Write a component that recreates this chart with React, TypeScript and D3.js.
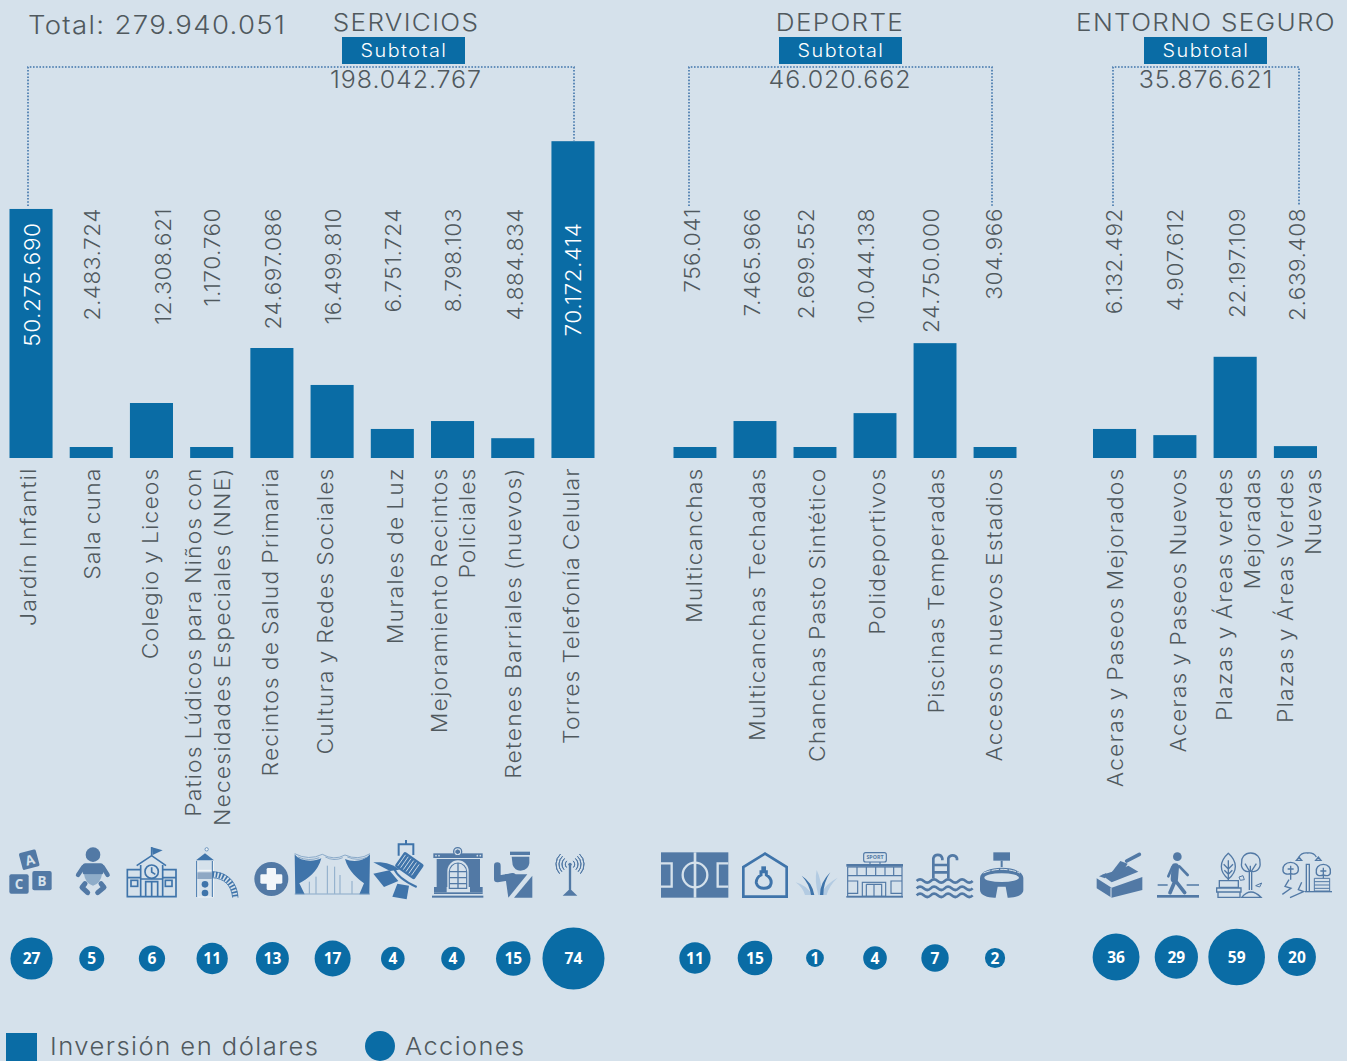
import * as d3 from 'd3';

// Inversion per category (dollars), as printed on the picture
const serviciosCategorias = [
  ['Jardín Infantil'],
  ['Sala cuna'],
  ['Colegio y Liceos'],
  ['Patios Lúdicos para Niños con', 'Necesidades Especiales (NNE)'],
  ['Recintos de Salud Primaria'],
  ['Cultura y Redes Sociales'],
  ['Murales de Luz'],
  ['Mejoramiento Recintos', 'Policiales'],
  ['Retenes Barriales (nuevos)'],
  ['Torres Telefonía Celular'],
];
const serviciosInversion = [50275690, 2483724, 12308621, 1170760, 24697086, 16499810, 6751724, 8798103, 4884834, 70172414];
// the bars in the original are not proportional to the printed number, so keep what was drawn (millions)
const serviciosBarras = [56.6, 2.5, 12.5, 2.5, 25, 16.6, 6.6, 8.4, 4.5, 72];
const serviciosAcciones = [27, 5, 6, 11, 13, 17, 4, 4, 15, 74];

const deporteCategorias = [
  ['Multicanchas'],
  ['Multicanchas Techadas'],
  ['Chanchas Pasto Sintético'],
  ['Polideportivos'],
  ['Piscinas Temperadas'],
  ['Accesos nuevos Estadios'],
];
const deporteInversion = [756041, 7465966, 2699552, 10044138, 24750000, 304966];
const deporteBarras = [2.5, 8.4, 2.5, 10.2, 26.1, 2.5];
const deporteAcciones = [11, 15, 1, 4, 7, 2];

const entornoCategorias = [
  ['Aceras y Paseos Mejorados'],
  ['Aceras y Paseos Nuevos'],
  ['Plazas y Áreas verdes', 'Mejoradas'],
  ['Plazas y Áreas Verdes', 'Nuevas'],
];
const entornoInversion = [6132492, 4907612, 22197109, 2639408];
const entornoBarras = [6.6, 5.2, 23, 2.7];
const entornoAcciones = [36, 29, 59, 20];

const totalGeneral = 279940051;
const subtotales = [198042767, 46020662, 35876621];

const WIDTH = 1347;
const HEIGHT = 1061;
const BG = '#d5e1eb';
const BLUE = '#0a6ca5';
const ICON = '#5279a5';
const ICON_LINE = '#3f74aa';
const TEXT = '#50595e';
const FONT = 'Inter, "Open Sans", sans-serif';

const es = d3.formatLocale({ decimal: ',', thousands: '.', grouping: [3], currency: ['', ''] });
const fmt = es.format(',d');

const yBar = d3.scaleLinear().domain([0, 72]).range([458, 141.2]);
const rAccion = d3.scaleSqrt().domain([0, 74]).range([6, 31]);

const grupos = [
  {
    titulo: 'SERVICIOS',
    categorias: serviciosCategorias,
    inversion: serviciosInversion,
    barras: serviciosBarras,
    acciones: serviciosAcciones,
    subtotal: subtotales[0],
    xRange: [9.5, 594.5],
    center: 406,
    boxCenter: 403.5,
    circleY: 958.5,
    circleNudge: 0.5,
    bracket: [28, 574, 206, 141],
    valueX: [32, 92, 163, 212, 273, 333, 393, 453, 515, 573],
    catX: [[28], [92], [150], [193, 222], [270], [325], [395], [439, 467], [513], [571]],
  },
  {
    titulo: 'DEPORTE',
    categorias: deporteCategorias,
    inversion: deporteInversion,
    barras: deporteBarras,
    acciones: deporteAcciones,
    subtotal: subtotales[1],
    xRange: [673.5, 1016.5],
    center: 840,
    boxCenter: 840.5,
    circleY: 958,
    circleNudge: 0,
    bracket: [689, 992, 206, 206],
    valueX: [692, 752, 806, 866, 931, 994],
    catX: [[694], [757], [817], [877], [936], [994]],
  },
  {
    titulo: 'ENTORNO SEGURO',
    categorias: entornoCategorias,
    inversion: entornoInversion,
    barras: entornoBarras,
    acciones: entornoAcciones,
    subtotal: subtotales[2],
    xRange: [1093, 1317],
    center: 1206,
    boxCenter: 1205.5,
    circleY: 957,
    circleNudge: 1.5,
    bracket: [1113, 1299, 206, 206],
    valueX: [1114, 1175, 1237, 1297],
    catX: [[1115], [1178], [1224, 1252], [1285, 1313]],
  },
];

// Montserrat is not installed: Inter stretched along the line comes closest to its wide letters
const Texto = ({ x, y, size, anchor = 'start', fill = TEXT, spacing = 0.9, stretch = 1, words = 0, rotate = false, children }: any) => (
  <text
    transform={`translate(${x},${y})${rotate ? ' rotate(-90)' : ''} scale(${stretch},1)`}
    dy={rotate ? '.36em' : undefined}
    textAnchor={anchor}
    fontFamily={FONT}
    fontWeight={300}
    fontSize={size}
    letterSpacing={spacing}
    wordSpacing={words}
    fill={fill}
  >
    {children}
  </text>
);

const Grupo = ({ g }: any) => {
  const names = g.categorias.map((c: string[]) => c.join(' '));
  const x = d3.scaleBand().domain(names).range(g.xRange).paddingInner(0.285);
  const [bx0, bx1, by0, by1] = g.bracket;
  return (
    <g>
      <Texto x={g.center} y={31} size={23.5} anchor="middle" spacing={1.2} stretch={1.11}>{g.titulo}</Texto>
      <rect x={g.boxCenter - 61.5} y={37} width={123} height={27} fill={BLUE} />
      <Texto x={g.boxCenter + 0.5} y={57} size={18} anchor="middle" fill="#fff" spacing={1.35} stretch={1.1}>Subtotal</Texto>
      <Texto x={g.center} y={88} size={24.5} anchor="middle" spacing={0.9} stretch={1.02}>{fmt(g.subtotal)}</Texto>
      <path
        d={`M${bx0},${by0}V67H${bx1}V${by1}`}
        fill="none"
        stroke={ICON_LINE}
        strokeWidth={1.6}
        strokeDasharray="1.6 1.6"
      />
      {names.map((n: string, i: number) => {
        const value = g.inversion[i];
        const inside = value > 50000000;
        const cx = x(n)! + x.bandwidth() / 2 + g.circleNudge;
        const lines = g.categorias[i];
        return (
          <g key={n}>
            <rect x={x(n)} y={yBar(g.barras[i])} width={x.bandwidth()} height={yBar(0) - yBar(g.barras[i])} fill={BLUE} />
            <Texto
              x={g.valueX[i]}
              y={inside ? 222.5 : 208}
              size={21.5}
              anchor="end"
              rotate
              fill={inside ? '#fff' : TEXT}
              spacing={0.5}
              stretch={1.05}
            >
              {fmt(value)}
            </Texto>
            {lines.map((line: string, j: number) => (
              <Texto key={line} x={g.catX[i][j]} y={467.5} size={21} anchor="end" rotate spacing={1.05} stretch={1.09} words={-1.5}>
                {line}
              </Texto>
            ))}
            <circle cx={cx} cy={g.circleY} r={rAccion(g.acciones[i])} fill={BLUE} />
            <text
              x={cx}
              y={g.circleY}
              dy=".36em"
              textAnchor="middle"
              fontFamily='"Open Sans", sans-serif'
              fontWeight={700}
              fontSize={15.5}
              fill="#fff"
            >
              {g.acciones[i]}
            </text>
          </g>
        );
      })}
    </g>
  );
};

// Pictograms, traced in the pixel grid of 3x crops of the picture
const Crop = ({ x, y, children }: any) => (
  <g transform={`translate(${x},${y}) scale(${1 / 3})`}>{children}</g>
);

const IconosServicios1 = () => (
  <Crop x={0} y={835}>
    {/* bloques */}
    <g fill={ICON}>
      <rect x={62} y={48} width={52} height={52} rx={5} transform="rotate(-15 88 75)" />
      <rect x={28} y={118} width={58} height={58} rx={6} />
      <rect x={97} y={108} width={58} height={58} rx={6} />
    </g>
    <g fill={BG} fontFamily="Open Sans" fontWeight={700} fontSize={40} textAnchor="middle">
      <text x={90} y={90} transform="rotate(-15 88 75)">A</text>
      <text x={57} y={162}>C</text>
      <text x={126} y={152}>B</text>
    </g>
    {/* guagua */}
    <circle cx={279} cy={59} r={22} fill={ICON} />
    <rect x={248} y={85} width={62} height={34} rx={8} fill={ICON} />
    <path d="M252,118H306Q302,146 279,152Q256,146 252,118Z" fill="#8fadc9" />
    <path d="M250,96L234,120M308,96L323,120" stroke={ICON} strokeWidth={13} strokeLinecap="round" fill="none" />
    <path d="M255,146L246,157L263,173M303,146L312,157L293,173" stroke={ICON} strokeWidth={15} strokeLinecap="round" strokeLinejoin="round" fill="none" />
    {/* colegio */}
    <g fill="none" stroke={ICON_LINE} strokeWidth={5}>
      <path d="M455,62V36" />
      <path d="M410,92L455,62L498,92" />
      <path d="M422,90V185M488,90V185" />
      <circle cx={455} cy={110} r={20} />
      <path d="M455,97V111L466,118" />
      <path d="M422,104H382V185H528V104H488" />
      <path d="M382,128H422M488,128H528" />
      <rect x={393} y={136} width={20} height={18} />
      <rect x={496} y={136} width={20} height={18} />
      <path d="M437,185V140H473V185M455,140V185M422,132H488" />
    </g>
    <path d="M456,37L488,46L458,60Z" fill={ICON_LINE} />
    {/* juego */}
    <g fill="none" stroke={ICON_LINE}>
      <path d="M593,78V186M640,78V186M593,186H640M593,106H640" strokeWidth={3.5} stroke="#eef3f7" />
      <path d="M590,78V186M637,78V186" strokeWidth={3} />
      <path d="M637,118C682,120 703,150 706,188" strokeWidth={17} strokeDasharray="5 5" />
      <path d="M637,110C690,112 712,150 714,188M637,128C672,130 694,150 698,188" strokeWidth={2.5} />
    </g>
    <path d="M588,76L615,55L642,76Z" fill={ICON_LINE} />
    <circle cx={620} cy={43} r={5} fill="#eef3f7" stroke={ICON_LINE} strokeWidth={2} />
    <rect x={592} y={112} width={44} height={20} fill="#8fa8c4" />
    <circle cx={615} cy={148} r={10} fill={ICON_LINE} />
    <circle cx={615} cy={174} r={10} fill={ICON_LINE} />
    {/* salud */}
    <circle cx={814} cy={132} r={51} fill={ICON} />
    <rect x={800} y={99} width={28} height={66} rx={4} fill="#f2f6f9" />
    <rect x={781} y={118} width={66} height={28} rx={4} fill="#f2f6f9" />
  </Crop>
);

const IconosServicios2 = () => (
  <Crop x={290} y={835}>
    {/* telon */}
    <path d="M14,58C30,80 70,82 94,70C84,110 52,132 28,145L44,178H16Z" fill={ICON_LINE} />
    <path d="M240,58C222,80 188,82 165,72C175,110 205,132 222,145L208,178H238Z" fill={ICON_LINE} />
    <g fill="none" stroke="#7c9fc2" strokeWidth={2.5}>
      <path d="M14,56Q56,78 97,58Q132,78 165,60Q205,78 240,56" />
      <path d="M24,66Q56,80 88,68M106,66Q132,80 158,68M172,66Q205,80 232,66" />
      <path d="M58,140V176M78,125V176M112,92V176M134,95V176M150,120V176M186,138V176" />
      <path d="M14,177H240" />
    </g>
    {/* foco */}
    <path d="M348,15V28M326,62V28H370V60" fill="none" stroke={ICON_LINE} strokeWidth={6} />
    <g transform="rotate(35 358 92)">
      <rect x={322} y={65} width={72} height={54} rx={6} fill={ICON_LINE} />
      <path d="M330,72V112M340,72V112M350,72V112M360,72V112M370,72V112M380,72V112" stroke={BG} strokeWidth={2.5} />
    </g>
    <path d="M250,82C285,80 310,88 328,104L300,108Z" fill={ICON_LINE} />
    <path d="M250,116L298,106L325,138L282,156Z" fill={ICON_LINE} />
    <path d="M322,146L357,152L350,193L307,185Z" fill={ICON_LINE} />
    <path d="M312,100C320,122 345,140 380,156" fill="none" stroke={ICON_LINE} strokeWidth={6} />
    {/* reten edificio */}
    <rect x={430} y={55} width={148} height={14} fill={ICON} />
    <circle cx={503} cy={50} r={12} fill={BG} stroke={ICON} strokeWidth={4} />
    <path d="M503,43L510,47V53L503,58L496,53V47Z" fill={ICON} />
    <g fill={BG}>
      <circle cx={438} cy={62} r={2.5} /><circle cx={447} cy={62} r={2.5} />
      <circle cx={562} cy={62} r={2.5} /><circle cx={571} cy={62} r={2.5} />
    </g>
    <path d="M440,72H570V156H440Z" fill={ICON} />
    <path d="M472,160V108A32,32 0 0 1 536,108V160Z" fill={BG} />
    <path d="M478,160V110A26,26 0 0 1 530,110V160Z" fill="none" stroke={ICON} strokeWidth={3.5} />
    <path d="M504,84V160M478,110H530M478,128H530M478,146H530" stroke={ICON} strokeWidth={4} />
    <rect x={432} y={156} width={38} height={16} fill={ICON} />
    <rect x={540} y={156} width={38} height={16} fill={ICON} />
    <rect x={432} y={172} width={146} height={5} fill={ICON} />
    <rect x={426} y={182} width={154} height={6} fill={ICON} />
    {/* carabinero */}
    <path d="M622,92V132L668,124" fill="none" stroke={ICON} strokeWidth={20} strokeLinecap="round" strokeLinejoin="round" />
    <rect x={660} y={50} width={60} height={10} fill={ICON} />
    <path d="M665,65H718V85A26,26 0 0 1 668,90Z" fill={ICON} />
    <path d="M645,118H712L655,188Z" fill={ICON} />
    <path d="M727,122V188H672Z" fill={ICON} />
    {/* antena */}
    <path d="M840,88V172" stroke={ICON} strokeWidth={7} />
    <path d="M836,165H844L862,182H818Z" fill={ICON} />
    <circle cx={840} cy={88} r={5} fill={ICON} />
    <g fill="none" stroke={ICON} strokeWidth={3}>
      {[14, 24, 33, 42].map((r) => {
        const a = d3.arc().innerRadius(r).outerRadius(r);
        return (
          <g key={r} transform="translate(840,88)">
            <path d={a({ startAngle: -2.3, endAngle: -0.75 } as any) as string} />
            <path d={a({ startAngle: 0.75, endAngle: 2.3 } as any) as string} />
          </g>
        );
      })}
    </g>
  </Crop>
);

const IconosDeporte = () => (
  <Crop x={655} y={845}>
    {/* cancha */}
    <rect x={18} y={22} width={202} height={136} fill={ICON} />
    <g fill="none" stroke={BG} strokeWidth={7}>
      <path d="M120,22V158" strokeWidth={8} />
      <circle cx={120} cy={90} r={37} />
      <path d="M18,55H50V125H18M220,55H188V125H220" />
    </g>
    {/* techada */}
    <path d="M265,155V66L330,26L395,66V155Z" fill="none" stroke={ICON_LINE} strokeWidth={8} />
    <path d="M318,80H334V90C344,96 350,106 348,116C346,126 336,130 327,130C316,130 306,124 304,114C303,104 310,94 318,90Z" fill="none" stroke={ICON_LINE} strokeWidth={9} />
    <path d="M326,64V80" stroke={ICON_LINE} strokeWidth={14} />
    {/* pasto */}
    <g fill="#b3cbe2">
      <path d="M422,112Q458,122 470,150H450Q444,128 422,112Z" />
      <path d="M548,98Q510,118 495,150H515Q522,122 548,98Z" />
      <path d="M485,75Q478,110 490,150H500Q500,105 485,75Z" />
    </g>
    <g fill={ICON_LINE}>
      <path d="M440,92Q472,112 478,150H468Q464,118 440,92Z" />
      <path d="M526,82Q505,112 505,150H495Q495,112 526,82Z" />
    </g>
    {/* polideportivo */}
    <g fill="none" stroke={ICON} strokeWidth={3.5}>
      <rect x={626} y={23} width={68} height={28} rx={6} />
      <path d="M645,51V60M675,51V60" />
      <rect x={578} y={66} width={163} height={88} />
      <path d="M606,66V92M634,66V92M662,66V92M690,66V92M716,66V92M578,92H741" />
      <rect x={622} y={112} width={70} height={42} />
      <path d="M634,118H680V154M634,118V154M657,118V154" />
      <path d="M578,108H608V145H578M741,108H708V145H741" />
    </g>
    <rect x={574} y={57} width={170} height={8} fill={ICON} />
    <rect x={574} y={153} width={170} height={5} fill={ICON} />
    <text x={660} y={43} textAnchor="middle" fontFamily="Open Sans" fontWeight={700} fontSize={16} fill={ICON}>SPORT</text>
    {/* piscina */}
    <g fill="none" stroke={ICON} strokeWidth={8}>
      <path d="M835,100V40A14,14 0 0 1 862,40V46" />
      <path d="M880,100V40A14,14 0 0 1 906,40V46" />
      <path d="M835,60H880M835,82H880" />
      {[108, 130, 151].map((y) => (
        <path key={y} d={`M785,${y}q10,-10 21,0t21,0t21,0t21,0t21,0t21,0t21,0t21,0`} />
      ))}
    </g>
    {/* estadio */}
    <rect x={1015} y={22} width={50} height={25} fill={ICON} />
    <path d="M1040,47V66" stroke={ICON} strokeWidth={6} />
    <path d="M975,100C975,58 1105,58 1105,100V135C1105,152 1078,159 1058,158L1052,125H1028L1022,158C1002,159 975,152 975,135Z" fill={ICON} />
    <ellipse cx={1040} cy={98} rx={52} ry={13} fill={BG} />
    <path d="M985,84Q1040,62 1095,84" fill="none" stroke={BG} strokeWidth={3} strokeDasharray="22 4" />
  </Crop>
);

const IconosEntorno = () => (
  <Crop x={1085} y={845}>
    {/* ladrillo */}
    <path d="M35,100L80,128L172,96V135L80,158L35,130Z" fill={ICON} />
    <path d="M50,90L80,112L160,80L130,62L108,72Z" fill={ICON} />
    <path d="M42,94L64,84L60,100Z" fill={ICON} />
    <path d="M72,92L106,48L128,56L118,72L86,106Z" fill={ICON} />
    <path d="M125,48L163,28" stroke={ICON} strokeWidth={11} strokeLinecap="round" />
    <path d="M78,118L166,86" stroke={BG} strokeWidth={3} />
    <path d="M78,128V158" stroke={BG} strokeWidth={3} />
    {/* peaton */}
    <circle cx={277} cy={35} r={13} fill={ICON} />
    <path d="M271,66L268,102" stroke={ICON} strokeWidth={22} strokeLinecap="round" />
    <path d="M283,64L308,90M262,66L250,94" stroke={ICON} strokeWidth={8} strokeLinecap="round" fill="none" />
    <path d="M270,108L255,143M272,108L299,143" stroke={ICON} strokeWidth={11} strokeLinecap="round" fill="none" />
    <path d="M218,120H248M305,120H342" stroke={ICON} strokeWidth={5} />
    <rect x={216} y={150} width={126} height={8} fill={ICON} />
    {/* plaza */}
    <g fill="none" stroke={ICON} strokeWidth={4}>
      <path d="M430,25C402,50 402,80 430,102C458,80 458,50 430,25Z" />
      <path d="M430,46V106M430,72L416,58M430,72L444,58M430,88L418,76M430,88L442,76" />
      <path d="M403,107H460V127H403ZM395,129H468V141H395ZM399,141H465V157H399Z" />
      <path d="M497,24C478,24 468,40 470,52C466,72 482,84 497,78C512,84 528,72 525,52C527,40 516,24 497,24Z" />
      <path d="M493,135V78L480,56M500,135V78L514,56M496,80V62" />
      <path d="M470,157Q497,125 528,157H470Z" />
      <path d="M462,96L474,92L478,104L466,106Z" strokeWidth={3} />
      <path d="M512,122L530,114L524,126Z" strokeWidth={3} />
    </g>
    {/* paseo */}
    <g fill="none" stroke={ICON} strokeWidth={4}>
      <path d="M664,140V58H673V140" />
      <path d="M642,36Q650,22 668,24Q686,22 694,36" />
      <path d="M634,46L642,36L650,46ZM692,46L700,36L708,46Z" />
      <path d="M617,52C602,52 592,64 594,74C592,86 606,90 617,86C628,90 640,86 640,74C642,64 632,52 617,52Z" />
      <path d="M617,62V104M608,72H626" />
      <path d="M715,58C700,58 692,70 694,80C692,92 704,94 715,90C726,94 738,92 736,80C738,70 730,58 715,58Z" />
      <path d="M715,68V100M706,78H724" />
      <path d="M688,100H734V138H688ZM688,110H734M688,120H734M688,130H734" strokeWidth={3} />
      <path d="M612,104L600,124L618,130L592,148M650,112L640,134L656,140L615,158" />
      <path d="M660,140H741" />
    </g>
  </Crop>
);

const App = () => (
  <svg
    width={WIDTH}
    height={HEIGHT}
    style={{ position: 'absolute', left: 0, top: 0, display: 'block', background: BG }}
  >
    <Texto x={28} y={34} size={25.5} spacing={1.25} stretch={1.08}>{`Total: ${fmt(totalGeneral)}`}</Texto>
    {grupos.map((g) => (
      <Grupo key={g.titulo} g={g} />
    ))}
    <IconosServicios1 />
    <IconosServicios2 />
    <IconosDeporte />
    <IconosEntorno />
    {/* legend */}
    <rect x={6} y={1033} width={31} height={28} fill={BLUE} />
    <Texto x={50} y={1055} size={24.5} spacing={1.4} stretch={1.045}>Inversión en dólares</Texto>
    <circle cx={380} cy={1046} r={15} fill={BLUE} />
    <Texto x={405} y={1055} size={24.5} spacing={1.4} stretch={1.035}>Acciones</Texto>
  </svg>
);

export default App;
